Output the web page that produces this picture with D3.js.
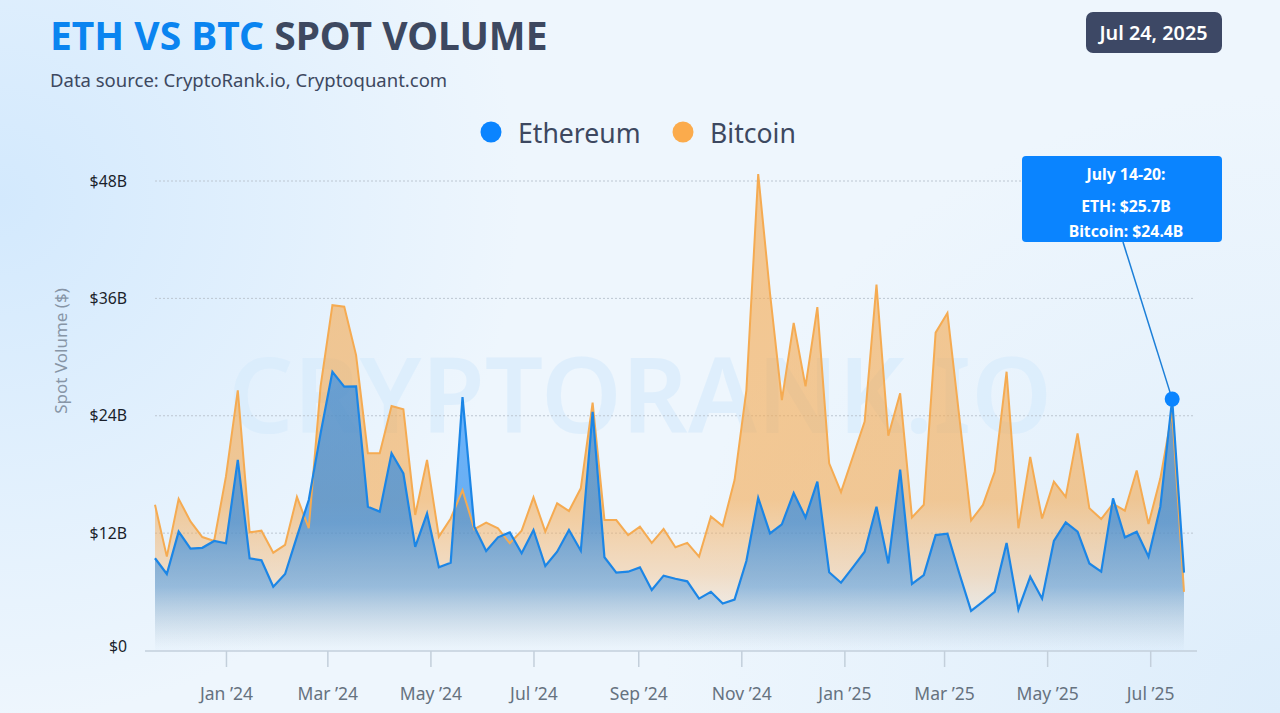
<!DOCTYPE html>
<html><head><meta charset="utf-8">
<script src="https://cdn.jsdelivr.net/npm/d3@7"></script>
<style>
html,body{margin:0;padding:0;width:1280px;height:713px;overflow:hidden;background:#edf5fd}
svg{display:block;font-family:"Noto Sans",sans-serif}
</style></head><body>
<svg id="c" width="1280" height="713"></svg>
<script>
const firstWeek = "2023-11-20";
const ethValues = [9.43,7.82,12.15,10.41,10.5,11.2,10.96,19.48,9.43,9.22,6.52,7.82,11.64,15.39,22.2,28.5,26.97,27.0,14.7,14.2,20.16,18.1,10.6,14.0,8.5,8.98,25.9,12.66,10.17,11.57,12.08,9.94,12.32,8.64,10.1,12.32,10.2,24.4,9.53,7.96,8.06,8.5,6.19,7.65,7.34,7.07,5.3,6.0,4.8,5.2,9.15,15.6,11.98,12.9,16.1,13.6,17.26,8.0,6.93,8.5,10.1,14.7,8.9,18.5,6.8,7.7,11.8,11.95,7.9,4.05,5.0,6.0,11.0,4.2,7.55,5.3,11.2,13.1,12.15,8.9,8.06,15.56,11.57,12.15,9.6,14.7,25.7,7.96];
const btcValues = [14.9,9.6,15.5,13.2,11.6,11.2,17.8,26.6,12.08,12.25,10.0,10.8,15.7,12.5,27.0,35.3,35.15,30.2,20.16,20.16,25.0,24.66,13.86,19.48,11.64,13.5,16.4,12.4,13.07,12.49,10.96,12.25,15.66,12.15,15.05,14.26,16.58,25.34,13.34,13.34,11.8,12.66,11.0,12.42,10.55,11.0,9.6,13.7,12.73,17.43,26.6,48.7,36.5,25.6,33.5,27.0,35.1,19.14,16.2,19.8,23.4,37.4,21.96,26.3,13.6,14.9,32.5,34.5,23.9,13.3,14.88,18.28,28.5,12.5,19.8,13.5,17.26,15.7,22.2,14.54,13.44,15.0,14.3,18.4,12.93,17.6,24.4,6.0];
const yTicks = [0,12,24,36,48];
const yTickLabels = ["$0","$12B","$24B","$36B","$48B"];
const monthTicks = ["2024-01-01","2024-03-01","2024-05-01","2024-07-01","2024-09-01","2024-11-01","2025-01-01","2025-03-01","2025-05-01","2025-07-01"];
const seriesNames = ["Ethereum","Bitcoin"];
const tooltipLines = ["July 14-20:","ETH: $25.7B","Bitcoin: $24.4B"];
const highlightIndex = 86;

const parse = d3.utcParse("%Y-%m-%d");
const dates = ethValues.map((_,i)=>d3.utcDay.offset(parse(firstWeek),i*7));
const x = d3.scaleUtc().domain([dates[0],dates[dates.length-1]]).range([155,1184]);
const y = d3.scaleLinear().domain([0,48]).range([650.5,181]);
const svg = d3.select("#c");
const defs = svg.append("defs");

function linGrad(id,x1,y1,x2,y2,stops,units){
  const g=defs.append("linearGradient").attr("id",id).attr("gradientUnits",units||"userSpaceOnUse")
    .attr("x1",x1).attr("y1",y1).attr("x2",x2).attr("y2",y2);
  stops.forEach(s=>g.append("stop").attr("offset",s[0]).attr("stop-color",s[1]).attr("stop-opacity",s[2]));
}
function radGrad(id,cx,cy,r,stops){
  const g=defs.append("radialGradient").attr("id",id).attr("gradientUnits","userSpaceOnUse")
    .attr("cx",cx).attr("cy",cy).attr("r",r);
  stops.forEach(s=>g.append("stop").attr("offset",s[0]).attr("stop-color",s[1]).attr("stop-opacity",s[2]));
}
radGrad("bgL",0,200,520,[[0,"#d3e9fd",1],[1,"#d3e9fd",0]]);
radGrad("bgR",1280,713,620,[[0,"#ddedfb",1],[1,"#ddedfb",0]]);
linGrad("orange",0,180,0,650,[[0,"#f5a94f",.62],[.68,"#f5a94f",.6],[.84,"#f5b774",.4],[1,"#f7cfa3",0]]);
linGrad("blue",0,370,0,648,[[0,"#0a84ff",.58],[.55,"#1a82e8",.62],[.78,"#3f95e6",.5],[1,"#7fb8ec",.03]]);

svg.append("rect").attr("width",1280).attr("height",713).attr("fill","#eef6fd");
svg.append("rect").attr("width",1280).attr("height",713).attr("fill","url(#bgL)");
svg.append("rect").attr("width",1280).attr("height",713).attr("fill","url(#bgR)");

// watermark
svg.append("text").attr("x",640).attr("y",433).attr("text-anchor","middle")
  .attr("font-size",104).attr("font-weight",600).attr("fill","#d8ecfc").attr("opacity",.7)
  .attr("textLength",824).attr("lengthAdjust","spacingAndGlyphs").text("CRYPTORANK.IO");

// grid
svg.append("g").selectAll("line").data(yTicks.filter(d=>d>0)).join("line")
  .attr("x1",155).attr("x2",1195).attr("y1",d=>y(d)).attr("y2",d=>y(d))
  .attr("stroke","#bcc6d1").attr("stroke-width",1).attr("stroke-dasharray","2 2");

// y labels
svg.append("g").selectAll("text").data(yTicks).join("text")
  .attr("x",127).attr("y",d=>d===0?651.5:y(d)+5.5).attr("text-anchor","end")
  .attr("font-size",15.8).attr("fill","#1a1f2b").text((d,i)=>yTickLabels[i]);
svg.append("text").attr("transform","translate(67,351) rotate(-90)").attr("text-anchor","middle")
  .attr("font-size",17).attr("fill","#8795a6").text("Spot Volume ($)");

// areas
const area = vals=>d3.area().x((d,i)=>x(dates[i])).y0(y(0)).y1(d=>y(d))(vals);
const line = vals=>d3.line().x((d,i)=>x(dates[i])).y(d=>y(d))(vals);
svg.append("path").attr("d",area(btcValues)).attr("fill","url(#orange)");
svg.append("path").attr("d",area(ethValues)).attr("fill","url(#blue)");
svg.append("path").attr("d",line(btcValues)).attr("fill","none").attr("stroke","#f5ab52").attr("stroke-width",2).attr("stroke-linejoin","miter");
svg.append("path").attr("d",line(ethValues)).attr("fill","none").attr("stroke","#1c86e6").attr("stroke-width",2.2).attr("stroke-linejoin","miter");

// x axis
const axis = d3.axisBottom(x).tickValues(monthTicks.map(parse))
  .tickFormat(d3.utcFormat("%b ’%y")).tickSize(16).tickPadding(21);
const gx = svg.append("g").attr("transform","translate(0,651)").call(axis);
gx.select(".domain").remove();
gx.selectAll("line").attr("stroke","#c3cfdb").attr("stroke-width",1.5);
gx.selectAll("text").attr("font-size",17.5).attr("fill","#66727f").attr("font-family","\"Noto Sans\",sans-serif");
svg.append("line").attr("x1",145).attr("x2",1197).attr("y1",651).attr("y2",651).attr("stroke","#c3cfdb").attr("stroke-width",1.5);

// title
const title = svg.append("text").attr("x",50).attr("y",50).attr("font-size",39).attr("font-weight",700);
title.append("tspan").attr("fill","#0a84f0").text("ETH VS BTC");
title.append("tspan").attr("fill","#3d4860").text(" SPOT VOLUME");
svg.append("text").attr("x",50).attr("y",87).attr("font-size",18.5).attr("fill","#3d4860").text("Data source: CryptoRank.io, Cryptoquant.com");

// badge
svg.append("rect").attr("x",1086).attr("y",12).attr("width",136).attr("height",41).attr("rx",7).attr("fill","#3d4865");
svg.append("text").attr("x",1153.5).attr("y",40).attr("text-anchor","middle").attr("font-size",19.8).attr("font-weight",600).attr("fill","#fff").text("Jul 24, 2025");

// legend
const legendColors = ["#0a84ff","#fbab4c"];
const legendX = [491,683];
seriesNames.forEach((n,i)=>{
  svg.append("circle").attr("cx",legendX[i]).attr("cy",132).attr("r",10.5).attr("fill",legendColors[i]);
  svg.append("text").attr("x",legendX[i]+27).attr("y",143).attr("font-size",26.6).attr("fill","#3d4860").text(n);
});

// callout
const hx = x(dates[highlightIndex]), hy = y(ethValues[highlightIndex]);
svg.append("line").attr("x1",1123).attr("y1",242).attr("x2",hx).attr("y2",hy).attr("stroke","#1c7fd8").attr("stroke-width",1.5);
svg.append("circle").attr("cx",hx).attr("cy",hy).attr("r",7.5).attr("fill","#0a84ff");
svg.append("rect").attr("x",1022).attr("y",156).attr("width",200).attr("height",86).attr("rx",4).attr("fill","#0a84ff");
const tipY = [180,212,237];
tooltipLines.forEach((t,i)=>{
  svg.append("text").attr("x",1126).attr("y",tipY[i]).attr("text-anchor","middle")
    .attr("font-size",15.8).attr("font-weight",700).attr("fill","#fff").text(t);
});
</script></body></html>
